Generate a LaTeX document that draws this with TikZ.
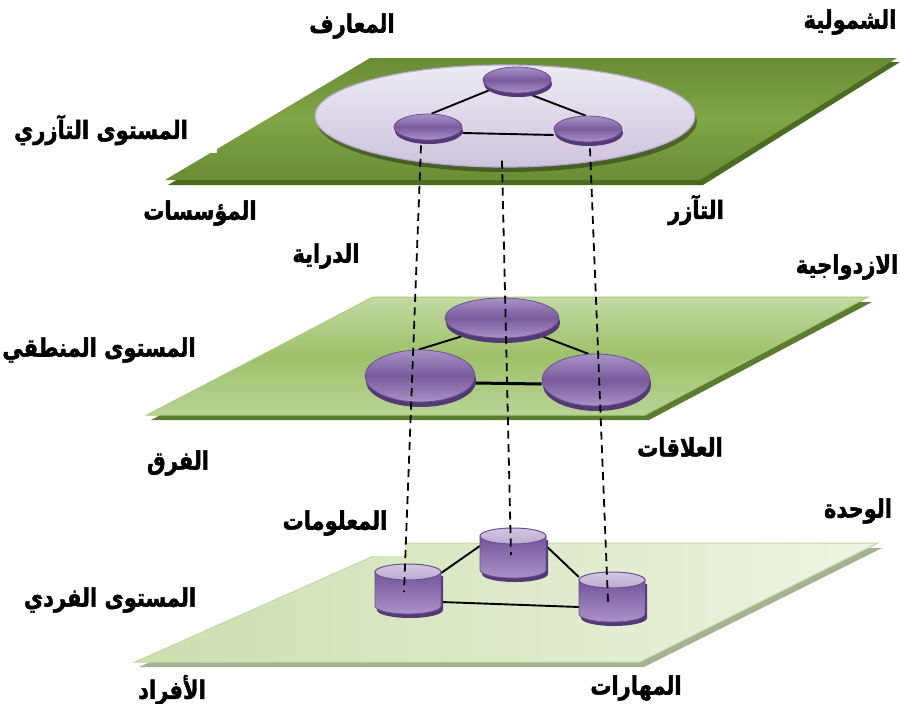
\documentclass[tikz,border=0pt]{standalone}
\usepackage{fontspec}
\newfontfamily\arabicfont[Script=Arabic, BoldFeatures={FakeBold=2}]{DejaVu Sans}
\TeXXeTstate=1
\usetikzlibrary{shapes.geometric,shadows}

\definecolor{topdark}{HTML}{698C35}
\definecolor{toplight}{HTML}{80A646}
\definecolor{topshadow}{HTML}{4B6A22}
\definecolor{midtop}{HTML}{C3DAA4}
\definecolor{midmid}{HTML}{9DC169}
\definecolor{midbot}{HTML}{B9D497}
\definecolor{midedge}{HTML}{A6CB7A}
\definecolor{midshadow}{HTML}{5C7C2F}
\definecolor{lowleft}{HTML}{CCDFB0}
\definecolor{lowright}{HTML}{EEF4E2}
\definecolor{lowedge}{HTML}{C3D8A5}
\definecolor{lowshadow}{HTML}{A3B293}
\definecolor{ringtop}{HTML}{EEEBF4}
\definecolor{ringbot}{HTML}{CEC3DD}
\definecolor{ringedge}{HTML}{B9A9D1}
\definecolor{disctop}{HTML}{A793C6}
\definecolor{discmid}{HTML}{7A5A9D}
\definecolor{discedge}{HTML}{6C4F91}
\definecolor{discrim}{HTML}{533A74}
\definecolor{drumtop}{HTML}{73549A}
\definecolor{drumbot}{HTML}{A993C8}
\definecolor{captop}{HTML}{D2C7E2}
\definecolor{capbot}{HTML}{BBABD3}

\pgfdeclarelayer{planes}
\pgfdeclarelayer{links}
\pgfdeclarelayer{front}
\pgfsetlayers{planes,links,main,front}

\newcommand\rtl[1]{\scalebox{1}[1.2]{\beginR #1\endR}}

% a drum: centre x, centre y of top cap, centre y of bottom cap, node name
\newcommand\drum[4]{%
  \fill[discrim] (#1-31,#2+4) -- (#1-31,#3+4) arc[start angle=180,end angle=0,x radius=33,y radius=8] -- (#1+35,#2+4) -- cycle;
  \shade[top color=drumtop, bottom color=drumbot, draw=discedge, line width=0.8pt]
    (#1-33,#2) -- (#1-33,#3) arc[start angle=180,end angle=0,x radius=33,y radius=8] -- (#1+33,#2) -- cycle;
  \shade[top color=captop, bottom color=capbot, draw=discedge, line width=1pt] (#1,#2) ellipse[x radius=33, y radius=8];
  \node[inner sep=0, minimum width=66pt, minimum height=50pt] (#4) at (#1,{(#2+#3)/2}) {};
}

\begin{document}
\begin{tikzpicture}[x=1pt,y=-1pt,
  lbl/.style={font=\arabicfont\bfseries\fontsize{21}{24}\selectfont, inner sep=1pt},
  disc/.style={ellipse, draw=discedge, line width=0.8pt, top color=disctop, bottom color=disctop,
    middle color=discmid, inner sep=0,
    drop shadow={shadow xshift=1pt, shadow yshift=-4pt, fill=discrim, opacity=1}},
  link/.style={line width=1.9pt, black},
  drop/.style={line width=1.8pt, dash pattern=on 8pt off 5.5pt}]
\useasboundingbox (0,0) rectangle (900,704);

% ---- the three planes ----
\begin{pgfonlayer}{planes}
  \fill[topshadow] (373,62) -- (900,62) -- (703,185) -- (168,185) -- cycle;
  \shade[top color=topdark, bottom color=topdark, middle color=toplight]
    (370,58) -- (897,58) -- (700,180) -- (165,180) -- cycle;
  \fill[midshadow] (377,302) -- (872,302) -- (649,420) -- (151,420) -- cycle;
  \shade[top color=midtop, bottom color=midbot, middle color=midmid, draw=midedge, line width=1pt]
    (373,297) -- (868,297) -- (645,415) -- (147,415) -- cycle;
  \fill[lowshadow] (407,548) -- (882,548) -- (644,667) -- (139,667) -- cycle;
  \shade[left color=lowleft, right color=lowright, draw=lowedge, line width=1pt]
    (403,543) -- (878,543) -- (640,662) -- (135,662) -- cycle;
  % white ground behind two labels
  \fill[white] (150,100) rectangle (217,153);
  \fill[white] (270,505) rectangle (405,556);
  % the ring that holds the top level
  \node[ellipse, minimum width=380pt, minimum height=102pt, draw=ringedge, line width=1.2pt,
    top color=ringtop, bottom color=ringbot,
    drop shadow={shadow xshift=2pt, shadow yshift=-5pt, fill=black, opacity=.35}] (ring) at (505,116) {};
\end{pgfonlayer}

% ---- top level discs ----
\node[disc, minimum width=68pt, minimum height=26pt] (k1) at (517,80) {};
\node[disc, minimum width=68pt, minimum height=26pt] (k2) at (428,127) {};
\node[disc, minimum width=68pt, minimum height=26pt] (k3) at (588,129) {};

% ---- middle level ----
\node[disc, minimum width=114pt, minimum height=40pt, drop shadow={shadow xshift=1pt, shadow yshift=-5pt, fill=discrim, opacity=1}] (m1) at (502,318) {};
\node[disc, minimum width=110pt, minimum height=52pt, drop shadow={shadow xshift=1pt, shadow yshift=-5pt, fill=discrim, opacity=1}] (m2) at (420,376) {};
\node[disc, minimum width=108pt, minimum height=52pt, drop shadow={shadow xshift=1pt, shadow yshift=-5pt, fill=discrim, opacity=1}] (m3) at (596,380) {};

% ---- bottom level: drums ----
\drum{408}{572}{606}{c1}
\drum{513}{536}{570}{c2}
\drum{612}{580}{614}{c3}

% ---- links ----
\begin{pgfonlayer}{links}
  \draw[link] (k1.200) -- (k2.75);
  \draw[link] (k1.-55) -- (k3.100);
  \draw[link] ([yshift=-6pt]k2.east) -- ([yshift=-6pt]k3.west);
  \draw[link] ([yshift=-4pt]m1.south west) -- (m2.93);
  \draw[link] ([yshift=-4pt]m1.south east) -- (m3.106);
  \draw[line width=3pt] ([yshift=-7pt]m2.east) -- ([yshift=-4pt]m3.west);
  \draw[link] ([yshift=7pt]c2.west) -- ([yshift=16pt]c1.east);
  \draw[link] ([yshift=7pt]c2.east) -- ([yshift=20pt]c3.west);
  \draw[link] ([yshift=-13pt]c1.east) -- ([yshift=-10pt]c3.west);
\end{pgfonlayer}

% ---- vertical dashed ties ----
\begin{pgfonlayer}{front}
  \draw[drop] ([xshift=-7pt,yshift=-5pt]k2.south) -- ([xshift=-4pt,yshift=-3pt]c1.center);
  \draw[drop] ([xshift=-3pt,yshift=7pt]ring.south) -- ([xshift=-2pt,yshift=-2pt]c2.center);
  \draw[drop] ([xshift=2pt,yshift=-6pt]k3.south) -- ([xshift=-4pt,yshift=-5pt]c3.center);
\end{pgfonlayer}

% ---- labels ----
\node[lbl] (shumul) at (850,22) {\rtl{الشمولية}};
\node[lbl] (maarif) at (352,26) {\rtl{المعارف}};
\node[lbl] (tazuri) at (101,130) {\rtl{المستوى التآزري}};
\node[lbl] (muassasat) at (200,213) {\rtl{المؤسسات}};
\node[lbl] (taazur) at (696,210) {\rtl{التآزر}};
\node[lbl] (diraya) at (326,256) {\rtl{الدراية}};
\node[lbl] (izdiwaj) at (847,267) {\rtl{الازدواجية}};
\node[lbl] (mantiqi) at (99,350) {\rtl{المستوى المنطقي}};
\node[lbl] (alaqat) at (680,447) {\rtl{العلاقات}};
\node[lbl] (firaq) at (178,463) {\rtl{الفرق}};
\node[lbl] (wahda) at (858,511) {\rtl{الوحدة}};
\node[lbl] (maalumat) at (335,523) {\rtl{المعلومات}};
\node[lbl] (fardi) at (110,600) {\rtl{المستوى الفردي}};
\node[lbl] (afrad) at (172,690) {\rtl{الأفراد}};
\node[lbl] (maharat) at (636,688) {\rtl{المهارات}};
\end{tikzpicture}
\end{document}
